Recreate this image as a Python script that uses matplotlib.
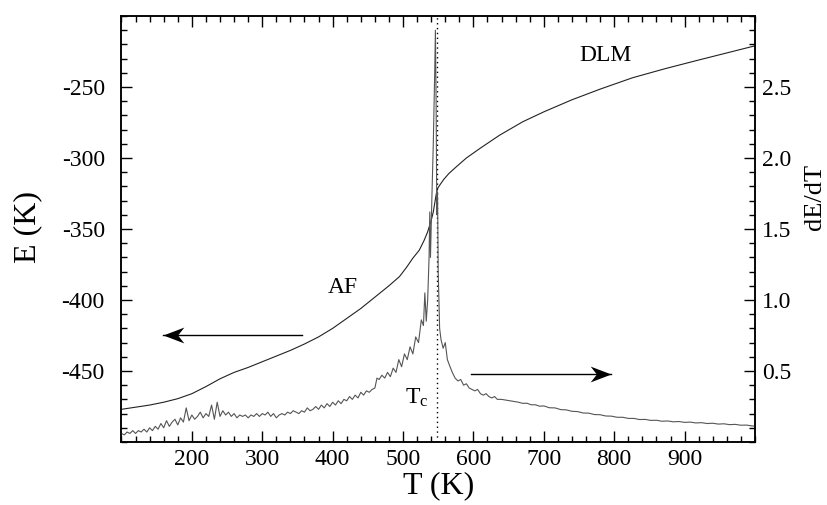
import numpy as np
import matplotlib
matplotlib.use("Agg")
from matplotlib import pyplot as plt
from matplotlib.path import Path
from matplotlib.ticker import MultipleLocator, FormatStrFormatter

plt.rcParams['font.family'] = ['Liberation Serif', 'DejaVu Serif']
plt.rcParams['mathtext.fontset'] = 'custom'
plt.rcParams['mathtext.rm'] = 'Liberation Serif'
plt.rcParams['mathtext.it'] = 'Liberation Serif:italic'
plt.rcParams['mathtext.default'] = 'rm'
plt.rcParams['axes.unicode_minus'] = False

# energy E(T)
T_energy = [100, 120, 140, 160, 180, 200, 220, 240, 260, 280,
            300, 320, 340, 360, 380, 400, 420, 440, 460, 480,
            495, 505, 514, 523, 530, 535, 540, 543, 545, 547,
            549, 553, 558, 565, 575, 590, 610, 637, 670, 700,
            740, 780, 826, 873, 920, 960, 1000]
E_energy = [-477, -475.5, -474, -472, -469.5, -466, -461, -455.5, -451, -447.5,
            -443.5, -439.5, -435.5, -431, -426, -420, -413, -406, -398, -390,
            -383.5, -377, -370.5, -365, -358, -352, -344, -338, -332, -326,
            -321.5, -318.5, -315, -311, -306.5, -300, -293, -284, -274.5, -267.5,
            -259, -251.5, -243.5, -237, -231, -226, -221]

# derivative dE/dT (right axis), 10 values per row
T_deriv = [100, 104, 108, 112, 116, 120, 124, 128, 132, 136,
           140, 144, 148, 152, 156, 160, 164, 168, 172, 176,
           180, 184, 188, 192, 196, 200, 204, 208, 212, 216,
           220, 224, 228, 232, 236, 240, 244, 248, 252, 256,
           260, 264, 268, 272, 276, 280, 284, 288, 292, 296,
           300, 304, 308, 312, 316, 320, 324, 328, 332, 336,
           340, 344, 348, 352, 356, 360, 364, 368, 372, 376,
           380, 384, 388, 392, 396, 400, 404, 408, 412, 416,
           420, 424, 428, 432, 436, 440, 444, 448, 452, 456,
           460, 463, 466, 470, 474, 478, 482, 486, 490, 494,
           498, 502, 506, 510, 514, 518, 522, 526, 529, 531,
           533, 535, 537, 538, 539, 541, 543, 545, 546, 547,
           548, 549, 550, 552, 554, 557, 560, 563, 566, 570,
           574, 578, 582, 586, 590, 594, 598, 602, 606, 610,
           614, 618, 622, 626, 630, 634, 640, 646, 652, 658,
           664, 670, 676, 682, 688, 694, 700, 708, 716, 724,
           732, 740, 748, 756, 764, 772, 780, 788, 796, 804,
           812, 820, 828, 836, 844, 852, 860, 868, 876, 884,
           892, 900, 908, 916, 924, 932, 940, 948, 956, 964,
           972, 980, 988, 996, 1000]
dEdT = [0.06, 0.05, 0.07, 0.06, 0.08, 0.06, 0.08, 0.07, 0.09, 0.07,
        0.10, 0.08, 0.11, 0.09, 0.13, 0.10, 0.15, 0.11, 0.14, 0.16,
        0.12, 0.17, 0.14, 0.24, 0.15, 0.19, 0.16, 0.18, 0.21, 0.17,
        0.20, 0.18, 0.26, 0.16, 0.28, 0.18, 0.22, 0.19, 0.21, 0.18,
        0.20, 0.17, 0.19, 0.18, 0.19, 0.17, 0.19, 0.18, 0.20, 0.18,
        0.20, 0.19, 0.21, 0.18, 0.20, 0.17, 0.19, 0.20, 0.19, 0.21,
        0.20, 0.22, 0.21, 0.20, 0.22, 0.21, 0.24, 0.22, 0.23, 0.25,
        0.23, 0.26, 0.24, 0.27, 0.25, 0.28, 0.26, 0.29, 0.27, 0.30,
        0.29, 0.32, 0.30, 0.33, 0.31, 0.35, 0.33, 0.36, 0.35, 0.37,
        0.38, 0.45, 0.44, 0.47, 0.45, 0.49, 0.46, 0.52, 0.49, 0.58,
        0.53, 0.62, 0.58, 0.67, 0.62, 0.74, 0.70, 0.86, 0.82, 1.05,
        0.85, 1.00, 1.30, 1.62, 1.30, 1.72, 2.10, 2.60, 2.90, 2.40,
        1.60, 1.76, 1.20, 0.80, 0.72, 0.66, 0.70, 0.58, 0.54, 0.49,
        0.45, 0.43, 0.44, 0.40, 0.41, 0.38, 0.37, 0.36, 0.37, 0.34,
        0.33, 0.34, 0.32, 0.31, 0.32, 0.30, 0.30, 0.295, 0.29, 0.285,
        0.28, 0.272, 0.273, 0.262, 0.262, 0.252, 0.254, 0.241, 0.24, 0.228,
        0.226, 0.216, 0.214, 0.204, 0.203, 0.193, 0.192, 0.183, 0.182, 0.174,
        0.174, 0.166, 0.166, 0.158, 0.159, 0.152, 0.153, 0.146, 0.148, 0.142,
        0.144, 0.138, 0.14, 0.134, 0.136, 0.13, 0.132, 0.126, 0.128, 0.122,
        0.124, 0.118, 0.119, 0.113, 0.112]

Tc = 548

# arrows: (start T, tip T, E level)
arrow_left = (357, 159, -424.4)
arrow_right = (597, 795, -452.3)

# notched ("stealth") arrow head, tip at the origin
head_right = Path([(0, 0), (-1, 0.38), (-0.7, 0), (-1, -0.38), (0, 0)], closed=True)
head_left = Path([(0, 0), (1, 0.38), (0.7, 0), (1, -0.38), (0, 0)], closed=True)

fig = plt.figure(figsize=(8.28, 5.05), dpi=100)
ax = fig.add_axes([0.1467, 0.1248, 0.7651, 0.8435])
ax2 = ax.twinx()

ax.plot(T_energy, E_energy, color='#222222', lw=0.8)
ax2.plot(T_deriv, dEdT, color='#555555', lw=0.8)
ax.axvline(Tc, color='black', lw=1.0, ls=(0, (1, 2.5)))

ax.set_xlim(100, 1000)
ax.set_ylim(-500, -200)
ax2.set_ylim(0, 3.0)

ax.xaxis.set_minor_locator(MultipleLocator(20))
ax.yaxis.set_minor_locator(MultipleLocator(10))
ax.set_xticks([200, 300, 400, 500, 600, 700, 800, 900])
ax.set_yticks([-450, -400, -350, -300, -250])
ax2.set_yticks([0.5, 1.0, 1.5, 2.0, 2.5])
ax2.yaxis.set_minor_locator(MultipleLocator(0.1))
ax2.yaxis.set_major_formatter(FormatStrFormatter('%.1f'))

ax.tick_params(which='both', direction='in', top=True, labelsize=17, width=1)
ax.tick_params(which='major', length=8)
ax.tick_params(which='minor', length=4.5)
ax.tick_params(axis='y', pad=12)
ax.tick_params(axis='x', pad=5)
ax2.tick_params(which='both', direction='in', labelsize=17, width=1, pad=5)
ax2.tick_params(which='major', length=8)
ax2.tick_params(which='minor', length=4.5)
for a in (ax, ax2):
    for s in a.spines.values():
        s.set_linewidth(1.1)

ax.set_xlabel('T (K)', fontsize=23, labelpad=1)
fig.text(28 / 828, 1 - 227 / 505, 'E (K)', fontsize=23, rotation=90,
         ha='center', va='center')
fig.text(815 / 828, 1 - 197 / 505, 'dE/dT', fontsize=19, rotation=90,
         ha='center', va='center')

ax.text(787, -228, 'DLM', fontsize=17, ha='center', va='center')
ax.text(414, -391, 'AF', fontsize=17, ha='center', va='center')
ax.text(519, -469, r'T$_\mathrm{c}$', fontsize=17, ha='center', va='center')

for (t0, t1, e), head in ((arrow_left, head_left), (arrow_right, head_right)):
    ax.plot([t0, t1], [e, e], color='black', lw=1.0)
    ax.plot([t1], [e], marker=head, markersize=30, color='black',
            markeredgewidth=0)

fig.savefig('out.png', dpi=100)
